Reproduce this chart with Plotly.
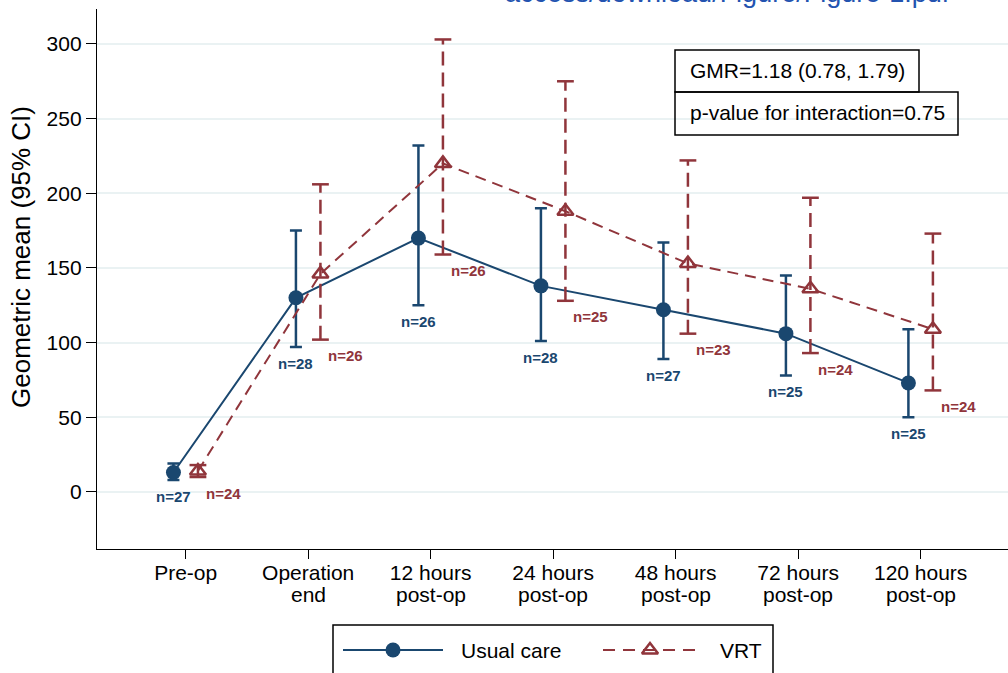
import plotly.graph_objects as go

W, H = 1008, 673

# ---------------- data ----------------
cat_line1 = ["Pre-op", "Operation", "12 hours", "24 hours", "48 hours", "72 hours", "120 hours"]
cat_line2 = ["", "end", "post-op", "post-op", "post-op", "post-op", "post-op"]

usual_mean = [13, 130, 170, 138, 122, 106, 73]
usual_lo = [8, 97, 125, 101, 89, 78, 50]
usual_hi = [19, 175, 232, 190, 167, 145, 109]
usual_n = [27, 28, 26, 28, 27, 25, 25]

vrt_mean = [14, 146, 220, 188, 153, 136, 109]
vrt_lo = [10, 102, 159, 128, 106, 93, 68]
vrt_hi = [18, 206, 303, 275, 222, 197, 173]
vrt_n = [24, 26, 26, 25, 23, 24, 24]

y_ticks = [0, 50, 100, 150, 200, 250, 300]
gmr_text = "GMR=1.18 (0.78, 1.79)"
p_text = "p-value for interaction=0.75"
legend_names = ["Usual care", "VRT"]
y_title = "Geometric mean (95% CI)"

# ---------------- styles ----------------
NAVY = "#1A476F"
MAROON = "#90353B"
GRID = "#EAF2F3"
FONT = "Liberation Sans, Arial, sans-serif"

idx = list(range(len(cat_line1)))
x_usual = [i - 0.1 for i in idx]
x_vrt = [i + 0.1 for i in idx]

# plot area in pixels
PL, PR, PT, PB = 97, 1008, 9, 549
def px(x):
    return x / W
def py(y):
    return 1 - y / H

fig = go.Figure()

# Usual care with solid CI bars
fig.add_trace(go.Scatter(
    x=x_usual, y=usual_mean, mode="lines+markers",
    line=dict(color=NAVY, width=2),
    marker=dict(symbol="circle", size=15, color=NAVY),
    error_y=dict(type="data", symmetric=False,
                 array=[h - m for h, m in zip(usual_hi, usual_mean)],
                 arrayminus=[m - l for m, l in zip(usual_mean, usual_lo)],
                 color=NAVY, thickness=2.5, width=6),
    showlegend=False, cliponaxis=False))

# VRT dashed CI lines
ci_x, ci_y = [], []
for xv, lo, hi in zip(x_vrt, vrt_lo, vrt_hi):
    ci_x += [xv, xv, None]
    ci_y += [lo, hi, None]
fig.add_trace(go.Scatter(x=ci_x, y=ci_y, mode="lines",
                         line=dict(color=MAROON, width=2.5, dash="14px,7px"),
                         showlegend=False, cliponaxis=False))
# caps
fig.add_trace(go.Scatter(x=x_vrt + x_vrt, y=vrt_lo + vrt_hi, mode="markers",
                         marker=dict(symbol="line-ew", size=12,
                                     line=dict(color=MAROON, width=2.5)),
                         showlegend=False, cliponaxis=False))
# VRT line + markers
fig.add_trace(go.Scatter(
    x=x_vrt, y=vrt_mean, mode="lines+markers",
    line=dict(color=MAROON, width=2, dash="11px,7px"),
    marker=dict(symbol="triangle-up-open", size=14, color=MAROON,
                line=dict(color=MAROON, width=2.5)),
    showlegend=False, cliponaxis=False))

annotations = []
# n labels
for xv, lo, n in zip(x_usual, usual_lo, usual_n):
    annotations.append(dict(x=xv, y=lo, xref="x", yref="y", text=f"<b>n={n}</b>",
                            showarrow=False, xanchor="center", yanchor="middle",
                            yshift=-16, font=dict(family=FONT, size=15, color=NAVY)))
for xv, lo, n in zip(x_vrt, vrt_lo, vrt_n):
    annotations.append(dict(x=xv, y=lo, xref="x", yref="y", text=f"<b>n={n}</b>",
                            showarrow=False, xanchor="left", yanchor="middle",
                            xshift=6, yshift=-16, font=dict(family=FONT, size=15, color=MAROON)))

# second line of category labels
for i, t in zip(idx, cat_line2):
    if t:
        annotations.append(dict(x=i, y=py(PB), xref="x", yref="paper", text=t,
                                showarrow=False, xanchor="center", yanchor="middle",
                                yshift=-45, font=dict(family=FONT, size=21, color="black")))

# y axis title
annotations.append(dict(x=px(21), y=py(257), xref="paper", yref="paper", text=y_title,
                        textangle=-90, showarrow=False, xanchor="center", yanchor="middle",
                        font=dict(family=FONT, size=26, color="black")))

# GMR boxes text
annotations.append(dict(x=px(688), y=py(71), xref="paper", yref="paper", text=gmr_text,
                        showarrow=False, xanchor="left", yanchor="middle",
                        font=dict(family=FONT, size=21, color="black")))
annotations.append(dict(x=px(688), y=py(113), xref="paper", yref="paper", text=p_text,
                        showarrow=False, xanchor="left", yanchor="middle",
                        font=dict(family=FONT, size=21, color="black")))

# legend text
annotations.append(dict(x=px(459), y=py(650), xref="paper", yref="paper", text=legend_names[0],
                        showarrow=False, xanchor="left", yanchor="middle",
                        font=dict(family=FONT, size=21, color="black")))
annotations.append(dict(x=px(718), y=py(650), xref="paper", yref="paper", text=legend_names[1],
                        showarrow=False, xanchor="left", yanchor="middle",
                        font=dict(family=FONT, size=21, color="black")))

# cut-off text at the very top
annotations.append(dict(x=px(503), y=py(-7), xref="paper", yref="paper",
                        text="access/download/Figure/Figure-1.pdf",
                        showarrow=False, xanchor="left", yanchor="middle",
                        font=dict(family=FONT, size=27, color="#2353B0")))

shapes = [
    dict(type="rect", xref="paper", yref="paper", x0=px(675), x1=px(919), y0=py(92), y1=py(50),
         line=dict(color="black", width=1.5)),
    dict(type="rect", xref="paper", yref="paper", x0=px(675), x1=px(958), y0=py(135), y1=py(92),
         line=dict(color="black", width=1.5)),
    dict(type="rect", xref="paper", yref="paper", x0=px(333), x1=px(773), y0=py(690), y1=py(625),
         line=dict(color="black", width=1.5)),
]

# legend samples on a pixel-coordinate overlay axis
fig.add_trace(go.Scatter(x=[343, 443], y=[650, 650], mode="lines",
                         line=dict(color=NAVY, width=2),
                         xaxis="x2", yaxis="y2", showlegend=False, cliponaxis=False))
fig.add_trace(go.Scatter(x=[393], y=[650], mode="markers",
                         marker=dict(symbol="circle", size=15, color=NAVY),
                         xaxis="x2", yaxis="y2", showlegend=False, cliponaxis=False))
fig.add_trace(go.Scatter(x=[603, 702], y=[650, 650], mode="lines",
                         line=dict(color=MAROON, width=2, dash="12px,8px"),
                         xaxis="x2", yaxis="y2", showlegend=False, cliponaxis=False))
fig.add_trace(go.Scatter(x=[650], y=[650], mode="markers",
                         marker=dict(symbol="triangle-up-open", size=14, color=MAROON,
                                     line=dict(color=MAROON, width=2.5)),
                         xaxis="x2", yaxis="y2", showlegend=False, cliponaxis=False))

fig.update_layout(
    width=W, height=H,
    margin=dict(l=0, r=0, t=0, b=0, autoexpand=False),
    paper_bgcolor="white", plot_bgcolor="rgba(0,0,0,0)",
    font=dict(family=FONT, size=21, color="black"),
    xaxis=dict(domain=[px(PL), px(PR)], range=[-0.724, 6.713],
               tickmode="array", tickvals=idx, ticktext=cat_line1,
               showline=True, linecolor="black", linewidth=1.3,
               ticks="outside", ticklen=9, tickwidth=1.3, tickcolor="black",
               ticklabelstandoff=-4,
               showgrid=False, zeroline=False, anchor="y",
               tickfont=dict(family=FONT, size=21, color="black")),
    yaxis=dict(domain=[py(PB), py(PT)], range=[-38.2, 323.4],
               tickmode="array", tickvals=y_ticks,
               showline=True, linecolor="black", linewidth=1.3,
               ticks="outside", ticklen=10, tickwidth=1.3, tickcolor="black",
               showgrid=True, gridcolor=GRID, gridwidth=2, zeroline=False, anchor="x",
               tickfont=dict(family=FONT, size=21, color="black")),
    xaxis2=dict(domain=[0, 1], range=[0, W], visible=False, anchor="y2", fixedrange=True),
    yaxis2=dict(domain=[0, 1], range=[H, 0], visible=False, anchor="x2", fixedrange=True),
    annotations=annotations, shapes=shapes,
)

fig.write_html("out.html")
